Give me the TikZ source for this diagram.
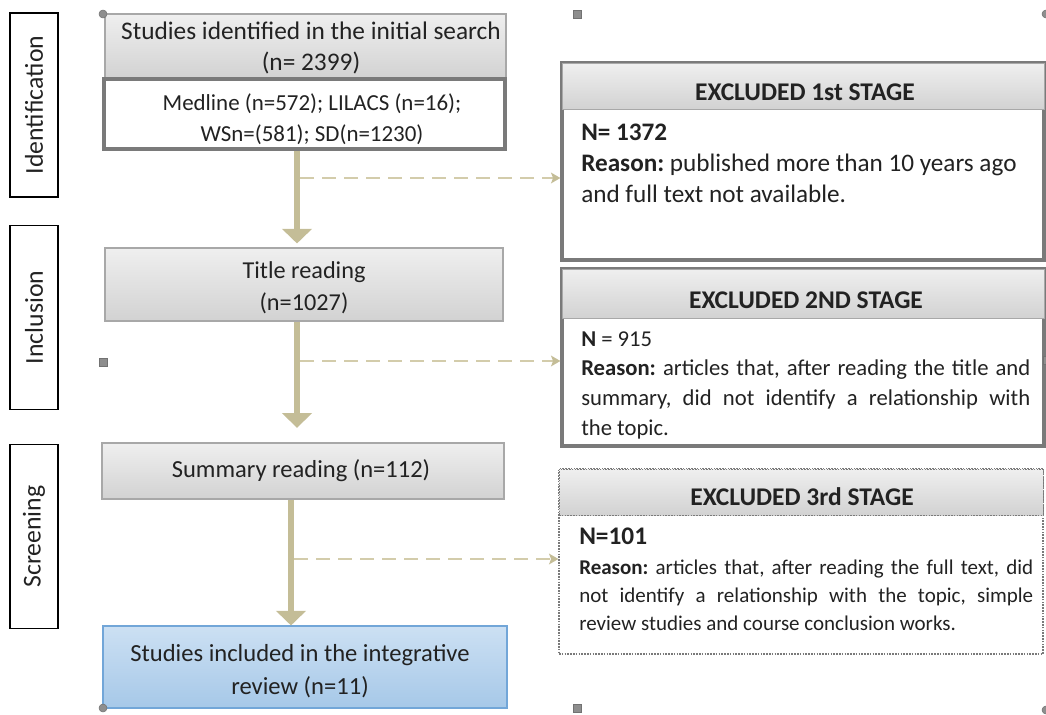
\documentclass[tikz,border=0pt]{standalone}
\usepackage{fontspec}
\setmainfont{Carlito}
\usetikzlibrary{arrows.meta,fit,calc}
\frenchspacing

\definecolor{arrowtan}{HTML}{C4BD97}
\definecolor{dashtan}{HTML}{D3CCAB}
\definecolor{hdrtop}{HTML}{EFEFEF}
\definecolor{hdrbot}{HTML}{D2D2D2}
\definecolor{hdrline}{HTML}{A8A8A8}
\definecolor{framegray}{HTML}{7A7A7A}
\definecolor{bluetop}{HTML}{CCE0F3}
\definecolor{bluebot}{HTML}{A6C8E8}
\definecolor{blueline}{HTML}{72A6D8}
\definecolor{handlegray}{HTML}{8E8E8E}
\definecolor{txt}{HTML}{222222}

% one justified line stretched to the full text width
\newcommand\jline[1]{\makebox[\linewidth][s]{\spaceskip=0.226em plus 1em minus 0.05em\relax #1}}

\tikzset{
  every node/.append style={execute at begin node={\spaceskip=0pt\xspaceskip=0pt\relax}},
  stagebox/.style={draw=black, line width=1.1pt, rotate=90, inner sep=0pt,
    minimum width=184*0.75pt, minimum height=48*0.75pt,
    font=\fontsize{19.3}{22}\selectfont, text=txt},
  graybox/.style={inner sep=0pt, draw=hdrline, line width=0.8pt,
    top color=hdrtop, bottom color=hdrbot},
  dbbox/.style={inner sep=0pt, draw=framegray, line width=2.4pt, fill=white},
  bluebox/.style={inner sep=0pt, draw=blueline, line width=0.8pt,
    top color=bluetop, bottom color=bluebot},
  maintext/.style={align=center, text=txt, inner sep=0pt},
  exframe/.style={inner sep=0pt, draw=framegray, line width=2.4pt, fill=white},
  exframedot/.style={inner sep=0pt, draw=framegray, line width=0.9pt,
    dash pattern=on 1.2pt off 0.9pt, fill=white},
  exhead/.style={inner sep=0pt, draw=hdrline, line width=0.6pt,
    top color=hdrtop, bottom color=hdrbot},
  exheaddot/.style={exhead, draw=framegray, dash pattern=on 1.2pt off 0.9pt},
  headtext/.style={text=txt, inner sep=0pt, anchor=base,
    font=\bfseries\fontsize{19.1}{20}\selectfont},
  bodytext/.style={inner sep=0pt, anchor=base west, text=txt},
  mainarrow/.style={draw=arrowtan, line width=4.8pt,
    -{Triangle[width=22pt,length=11pt]}},
  dasharrow/.style={draw=dashtan, line width=2pt, dash pattern=on 10.5pt off 6pt,
    -{Stealth[width=8pt,length=7pt,inset=1.5pt,color=arrowtan]}},
  handlesq/.style={fill=handlegray, draw=handlegray!80!black, line width=0.4pt},
}

\begin{document}
\begin{tikzpicture}[x=0.75pt,y=-0.75pt]
\useasboundingbox (0,0) rectangle (1046,714);

% phase labels on the left
\node[stagebox] (labident) at (34,105) {Identification};
\node[stagebox] (labincl) at (34,317.5) {Inclusion};
\node[stagebox] (labscreen) at (34,536.5) {Screening};

% main flow column
\node[graybox, fit={(105,14) (506,78)}] (search) {};
\node[maintext, font=\fontsize{19}{23.3}\selectfont] (searcht) at (311,48)
  {Studies identified in the initial search\\(n= 2399)};
\node[dbbox, fit={(104,79) (505,149)}] (dbs) {};
\node[maintext, font=\fontsize{17.2}{23.3}\selectfont] (dbst) at (312,119)
  {Medline (n=572); LILACS (n=16);\\WSn=(581); SD(n=1230)};

\node[graybox, fit={(105,248) (503,321)}] (title) {};
\node[maintext, font=\fontsize{18.2}{23.8}\selectfont] (titlet) at (304,288)
  {Title reading\\(n=1027)};

\node[graybox, fit={(102,443) (504,499)}] (summ) {};
\node[maintext, font=\fontsize{18.4}{22}\selectfont] (summt) at (301,471)
  {Summary reading (n=112)};

\node[bluebox, fit={(103,626) (507,708)}] (incl) {};
\node[maintext, font=\fontsize{18.45}{24.5}\selectfont] (inclt) at (300,671)
  {Studies included in the integrative\\review (n=11)};

% exclusion boxes on the right
\node[exframe, fit={(562,63) (1044,260)}] (ex1) {};
\node[exhead, fit={(562,63) (1044,109)}] (ex1h) {};
\node[headtext] (ex1ht) at (805,100) {EXCLUDED 1st STAGE};
\node[bodytext, text width=450*0.75pt, align=left, font=\fontsize{18.9}{23.6}\selectfont]
  (ex1t) at (581,140)
  {\textbf{N= 1372}\\\textbf{Reason:} published more than 10 years ago\\and full text not available.};

\node[exframe, fit={(562,269) (1044,446)}] (ex2) {};
\node[exhead, fit={(562,269) (1044,318)}] (ex2h) {};
\node[headtext] (ex2ht) at (806,308) {EXCLUDED 2ND STAGE};
\node[bodytext, text width=449*0.75pt, align=left, font=\fontsize{17}{22.3}\selectfont]
  (ex2t) at (581,346)
  {\textbf{N} = 915\\
   \jline{\textbf{Reason:} articles that, after reading the title and}\\
   \jline{summary, did not identify a relationship with}\\
   the topic.};

\node[exframedot, fit={(559,469) (1043,654)}] (ex3) {};
\node[exheaddot, fit={(559,469) (1043,515)}] (ex3h) {};
\node[headtext] (ex3ht) at (802,505) {EXCLUDED 3rd STAGE};
\node[text=txt, inner sep=0pt, anchor=base west, font=\bfseries\fontsize{19}{20}\selectfont]
  (ex3n) at (579,544) {N=101};
\node[bodytext, text width=454*0.75pt, align=left, font=\fontsize{15.75}{21}\selectfont]
  (ex3t) at (579,574)
  {\jline{\textbf{Reason:} articles that, after reading the full text, did}\\
   \jline{not identify a relationship with the topic, simple}\\
   review studies and course conclusion works.};

% branch points on the vertical arrows
\coordinate (colA) at (297,0);
\coordinate (colB) at (291,0);
\coordinate (br1) at (300,178);
\coordinate (br2) at (300,361);
\coordinate (br3) at (294,559);

% dashed exclusion arrows
\draw[dasharrow] (br1) -- (ex1.west |- br1);
\draw[dasharrow] (br2) -- (ex2.west |- br2);
\draw[dasharrow] (br3) -- (ex3.west |- br3);

% main downward arrows
\draw[mainarrow] (dbs.south -| colA) -- ([yshift=3pt]title.north -| colA);
\draw[mainarrow] (title.south -| colA) -- ([yshift=11pt]summ.north -| colA);
\draw[mainarrow] (summ.south -| colB) -- (incl.north -| colB);

% selection handles
\fill[handlesq] (103,14) circle (4);
\fill[handlesq] (103,708) circle (4);
\fill[handlesq] (1046,14) circle (4);
\fill[handlesq] (1046,710) circle (4);
\fill[handlesq] (573,10) rectangle (581,18);
\fill[handlesq] (99,358) rectangle (107,366);
\fill[handlesq] (573,704) rectangle (581,712);
\fill[handlesq] (1043,356) rectangle (1050,364);
\end{tikzpicture}
\end{document}
